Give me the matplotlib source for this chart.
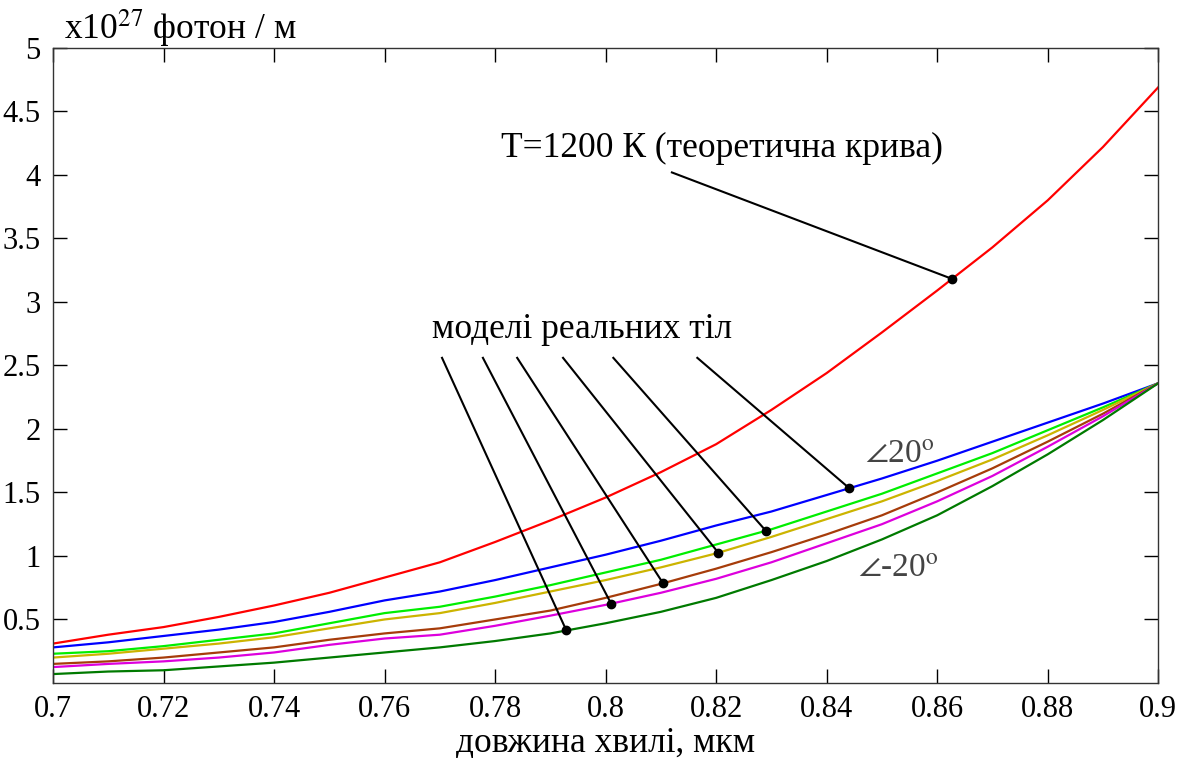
import numpy as np
import matplotlib
matplotlib.use('Agg')
import matplotlib.pyplot as plt

plt.rcParams['font.family'] = ['Liberation Serif', 'DejaVu Serif']
plt.rcParams['mathtext.fontset'] = 'stix'

# wavelength, um
wl = [0.70, 0.71, 0.72, 0.73, 0.74, 0.75, 0.76, 0.77, 0.78, 0.79, 0.80,
      0.81, 0.82, 0.83, 0.84, 0.85, 0.86, 0.87, 0.88, 0.89, 0.90]

# theoretical curve T=1200 K
red = [0.31, 0.38, 0.44, 0.52, 0.61, 0.71, 0.83, 0.95, 1.11, 1.28, 1.46,
       1.66, 1.88, 2.15, 2.44, 2.76, 3.09, 3.43, 3.80, 4.22, 4.69]

# real body models, from +20 deg down to -20 deg
blue = [0.28, 0.32, 0.37, 0.42, 0.48, 0.56, 0.65, 0.72, 0.81, 0.91, 1.01,
        1.12, 1.24, 1.35, 1.48, 1.61, 1.75, 1.90, 2.05, 2.20, 2.36]
lime = [0.23, 0.25, 0.29, 0.34, 0.39, 0.47, 0.55, 0.60, 0.68, 0.77, 0.87,
        0.97, 1.09, 1.21, 1.35, 1.49, 1.65, 1.81, 1.99, 2.17, 2.36]
yellow = [0.20, 0.23, 0.27, 0.31, 0.36, 0.43, 0.50, 0.55, 0.63, 0.72, 0.81,
          0.91, 1.02, 1.15, 1.29, 1.43, 1.59, 1.76, 1.95, 2.15, 2.36]
brown = [0.15, 0.17, 0.20, 0.24, 0.28, 0.34, 0.39, 0.43, 0.50, 0.57, 0.67,
         0.78, 0.90, 1.03, 1.17, 1.32, 1.50, 1.69, 1.90, 2.12, 2.36]
magenta = [0.125, 0.15, 0.17, 0.20, 0.24, 0.30, 0.35, 0.38, 0.45, 0.53, 0.615,
           0.71, 0.82, 0.95, 1.10, 1.25, 1.43, 1.63, 1.86, 2.10, 2.36]
dkgreen = [0.07, 0.09, 0.10, 0.13, 0.16, 0.20, 0.24, 0.28, 0.33, 0.39, 0.47,
           0.56, 0.67, 0.81, 0.96, 1.13, 1.32, 1.55, 1.80, 2.07, 2.36]

models = [blue, lime, yellow, brown, magenta, dkgreen]
colors = ['#0000ff', '#00ee00', '#ccb400', '#a63c0a', '#dd00dd', '#007a00']

# where the pointer lines touch the model curves (x positions)
mark_x = [0.8441, 0.8290, 0.8204, 0.8104, 0.8010, 0.7929]
start_x = [0.8166, 0.8014, 0.7923, 0.7840, 0.7778, 0.7704]

xticks = [0.70, 0.72, 0.74, 0.76, 0.78, 0.80, 0.82, 0.84, 0.86, 0.88, 0.90]
xlabels = ['0.7', '0.72', '0.74', '0.76', '0.78', '0.8', '0.82', '0.84',
           '0.86', '0.88', '0.9']
yticks = [0.5, 1, 1.5, 2, 2.5, 3, 3.5, 4, 4.5, 5]
ylabels = ['0.5', '1', '1.5', '2', '2.5', '3', '3.5', '4', '4.5', '5']

fig = plt.figure(figsize=(11.94, 7.58), dpi=100)
ax = fig.add_axes([0.0444, 0.099, 0.9256, 0.8377])

ax.plot(wl, red, color='#ff0000', lw=1.6)
for ys, c in zip(models, colors):
    ax.plot(wl, ys, color=c, lw=1.6)

ax.set_xlim(0.7, 0.9)
ax.set_ylim(0, 5)
ax.set_xticks(xticks)
ax.set_xticklabels(xlabels)
ax.set_yticks(yticks)
ax.set_yticklabels(ylabels)
ax.tick_params(direction='in', length=10, width=1, top=True, right=True,
               labelsize=22, pad=9)
for s in ax.spines.values():
    s.set_linewidth(1)
    s.set_color('#333333')

ax.set_xlabel('довжина хвилі, мкм', fontsize=25.5, labelpad=2)
fig.text(0.054, 0.962, 'x10$^{27}$ фотон / м', fontsize=25.5, va='center')

# theoretical curve pointer
px = 0.8627
py = np.interp(px, wl, red)
ax.plot([0.812, px], [4.02, py], color='black', lw=1.5)
ax.plot(px, py, 'o', color='black', ms=6)
ax.text(0.8211, 4.21, 'T=1200 К (теоретична крива)', fontsize=25.5,
        ha='center', va='center')

# model pointers
ax.text(0.7957, 2.78, 'моделі реальних тіл', fontsize=25.5,
        ha='center', va='center')
for ys, mx, sx in zip(models, mark_x, start_x):
    my = np.interp(mx, wl, ys)
    ax.plot([sx, mx], [2.56, my], color='black', lw=1.5)
    ax.plot(mx, my, 'o', color='black', ms=6)

ax.text(0.847, 1.80, r'$\angle$20$^{\mathrm{o}}$', fontsize=24,
        color='#444444', va='center')
ax.text(0.8457, 0.906, r'$\angle$-20$^{\mathrm{o}}$', fontsize=24,
        color='#444444', va='center')

fig.savefig('out.png', dpi=100)
